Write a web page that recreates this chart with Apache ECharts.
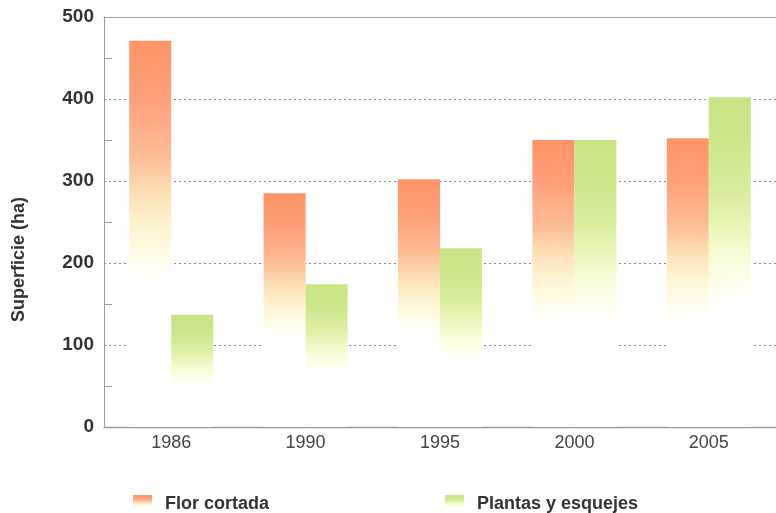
<!DOCTYPE html>
<html>
<head>
<meta charset="utf-8">
<script src="https://cdn.jsdelivr.net/npm/echarts@6/dist/echarts.min.js"></script>
<style>
html,body{margin:0;padding:0;background:#fff;}
#chart{width:776px;height:513px;}
</style>
</head>
<body>
<div id="chart"></div>
<script>
const categories = ['1986', '1990', '1995', '2000', '2005'];
const florCortada = [471, 285, 302, 350, 352];
const plantasEsquejes = [137, 174, 218, 350, 402];
const yTicks = [0, 100, 200, 300, 400, 500];
const seriesNames = ['Flor cortada', 'Plantas y esquejes'];
const axisTitle = 'Superficie (ha)';

function grad(stops) {
  return new echarts.graphic.LinearGradient(0, 0, 0, 1, stops.map(s => ({offset: s[0], color: s[1]})));
}
const salmon = grad([[0, '#FF9466'], [0.15, '#FFA07A'], [0.3, '#FDBD96'], [0.4, '#FDE0B8'], [0.48, '#FFF4D0'], [0.56, '#FFFDE8'], [0.62, '#FFFFFF'], [1, '#FFFFFF']]);
const green = grad([[0, '#C8E483'], [0.15, '#CDE78C'], [0.3, '#D9EDA0'], [0.4, '#ECF6BC'], [0.48, '#F8FCD6'], [0.56, '#FEFEEA'], [0.62, '#FFFFFF'], [1, '#FFFFFF']]);

const legendText = {fontFamily: 'Liberation Sans', fontWeight: 'bold', fontSize: 18, color: '#333', padding: [0, 0, 0, 8]};

const chart = echarts.init(document.getElementById('chart'));
chart.setOption({
  animation: false,
  backgroundColor: '#fff',
  grid: {left: 104, top: 17, width: 675, height: 410, containLabel: false},
  legend: [
    {data: [seriesNames[0]], left: 128, top: 490, itemWidth: 19, itemHeight: 19, icon: 'rect', textStyle: legendText},
    {data: [seriesNames[1]], left: 440, top: 490, itemWidth: 19, itemHeight: 19, icon: 'rect', textStyle: legendText}
  ],
  xAxis: [
    {type: 'category', data: categories, position: 'bottom',
     axisLine: {lineStyle: {color: '#8E9AA6', width: 1.3}},
     axisTick: {show: false},
     axisLabel: {fontFamily: 'Liberation Sans', fontSize: 18, color: '#444', margin: 7}},
    {type: 'category', data: categories, position: 'top',
     axisLine: {lineStyle: {color: '#9a9a9a', width: 1}},
     axisTick: {show: false}, axisLabel: {show: false}}
  ],
  yAxis: {
    type: 'value', min: yTicks[0], max: yTicks[yTicks.length - 1], interval: 100,
    axisLine: {show: true, lineStyle: {color: '#9a9a9a', width: 1}},
    axisTick: {show: false, inside: true},
    minorTick: {show: true, splitNumber: 2, length: 8, lineStyle: {color: '#9a9a9a'}},
    axisLabel: {fontFamily: 'Liberation Sans', fontWeight: 'bold', fontSize: 19, color: '#333', margin: 10},
    splitLine: {show: true, showMinLine: false, showMaxLine: false, lineStyle: {color: '#8a8a8a', type: [2, 3], width: 1}}
  },
  graphic: [{
    type: 'text', left: 10, top: 197, rotation: Math.PI / 2,
    style: {text: axisTitle, fontFamily: 'Liberation Sans', fontWeight: 'bold', fontSize: 18, fill: '#333'}
  }],
  series: [
    {name: seriesNames[0], type: 'bar', data: florCortada, barWidth: 42, barGap: '0%',
     itemStyle: {color: salmon}},
    {name: seriesNames[1], type: 'bar', data: plantasEsquejes, barWidth: 42, barGap: '0%',
     itemStyle: {color: green}}
  ]
});
</script>
</body>
</html>
